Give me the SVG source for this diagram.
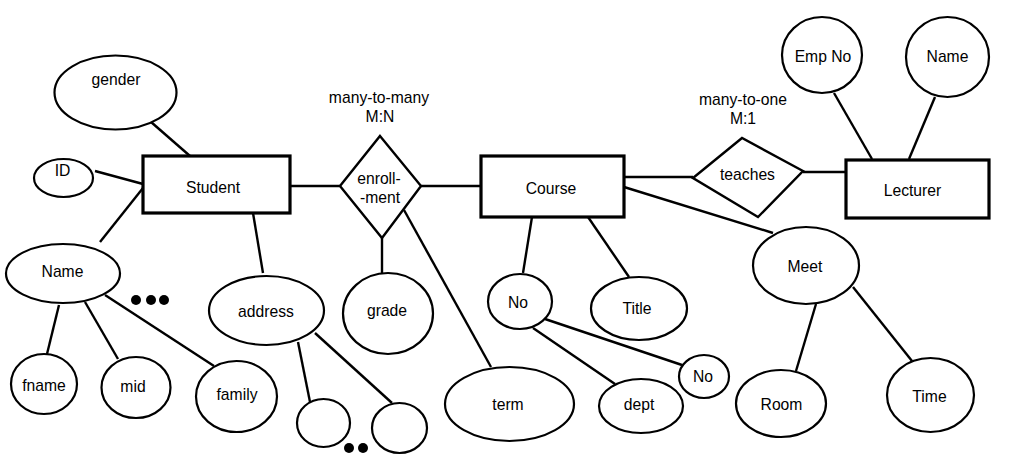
<svg xmlns="http://www.w3.org/2000/svg" width="1012" height="464" viewBox="0 0 1012 464">
<style>
.bg{fill:#fff}
.attr{fill:#fff;stroke:#000;stroke-width:2.2}
.ent{fill:#fff;stroke:#000;stroke-width:3.2}
.rel{fill:#fff;stroke:#000;stroke-width:2.4;stroke-linejoin:miter}
.ln{stroke:#000;stroke-width:2.4;fill:none}
.dot{fill:#000}
text{font-family:"Liberation Sans",Arial,Helvetica,sans-serif;font-size:15.7px;fill:#000;text-anchor:middle}
</style>
<rect class="bg" x="0" y="0" width="1012" height="464"/>
<g id="connectors">
<line class="ln" x1="143" y1="115" x2="190" y2="156"/>
<line class="ln" x1="95" y1="171" x2="143" y2="184"/>
<line class="ln" x1="100" y1="242" x2="143" y2="188"/>
<line class="ln" x1="290" y1="186" x2="340" y2="186"/>
<line class="ln" x1="421" y1="186" x2="481" y2="186"/>
<line class="ln" x1="253" y1="213" x2="263" y2="273"/>
<line class="ln" x1="382" y1="238" x2="382" y2="273"/>
<line class="ln" x1="404" y1="210" x2="491" y2="367"/>
<line class="ln" x1="59" y1="305" x2="47" y2="354"/>
<line class="ln" x1="85" y1="302" x2="118" y2="359"/>
<line class="ln" x1="105" y1="295" x2="214" y2="366"/>
<line class="ln" x1="298" y1="342" x2="310" y2="402"/>
<line class="ln" x1="315" y1="333" x2="392" y2="403"/>
<line class="ln" x1="624" y1="177" x2="693" y2="177"/>
<line class="ln" x1="803" y1="172" x2="846" y2="172"/>
<line class="ln" x1="624" y1="187" x2="773" y2="233"/>
<line class="ln" x1="532" y1="217" x2="523" y2="273"/>
<line class="ln" x1="588" y1="217" x2="629" y2="277"/>
<line class="ln" x1="545" y1="319" x2="682" y2="365"/>
<line class="ln" x1="533" y1="328" x2="615" y2="384"/>
<line class="ln" x1="816" y1="304" x2="796" y2="371"/>
<line class="ln" x1="853" y1="287" x2="912" y2="361"/>
<line class="ln" x1="834" y1="93" x2="872" y2="159"/>
<line class="ln" x1="935" y1="97" x2="909" y2="159"/>
</g>
<g id="student"><rect class="ent" x="143" y="156" width="147" height="57"/><text x="213" y="193">Student</text></g>
<g id="gender"><ellipse class="attr" cx="115.5" cy="92.5" rx="61" ry="37"/><text x="116" y="85">gender</text></g>
<g id="id"><ellipse class="attr" cx="63.5" cy="178" rx="29.5" ry="19"/><text x="62.5" y="176">ID</text></g>
<g id="name"><ellipse class="attr" cx="63" cy="273.5" rx="57" ry="29.5"/><text x="62.5" y="277">Name</text></g>
<g id="fname"><ellipse class="attr" cx="44" cy="384" rx="33" ry="30"/><text x="44" y="391">fname</text></g>
<g id="mid"><ellipse class="attr" cx="136" cy="387.5" rx="34.5" ry="30.5"/><text x="133" y="392">mid</text></g>
<g id="family"><ellipse class="attr" cx="236.5" cy="396.5" rx="40.5" ry="35.5"/><text x="237" y="400">family</text></g>
<g id="name-more"><circle class="dot" cx="136" cy="300" r="5"/><circle class="dot" cx="151" cy="300" r="5"/><circle class="dot" cx="164" cy="300" r="5"/></g>
<g id="address"><ellipse class="attr" cx="266.5" cy="310.5" rx="57.5" ry="34.5"/><text x="266" y="317">address</text></g>
<g id="addr1"><ellipse class="attr" cx="323.5" cy="423" rx="26.5" ry="24"/></g>
<g id="addr2"><ellipse class="attr" cx="399.5" cy="428" rx="27.5" ry="25"/></g>
<g id="addr-more"><circle class="dot" cx="349" cy="448" r="5"/><circle class="dot" cx="363" cy="448" r="5"/></g>
<g id="enrollment"><polygon class="rel" points="380,136 421,186 382,238 340,186"/><text x="379" y="184">enroll-</text><text x="380" y="203">-ment</text></g>
<g id="mn-label"><text x="379" y="103">many-to-many</text><text x="380" y="122">M:N</text></g>
<g id="grade"><ellipse class="attr" cx="388" cy="313.5" rx="45" ry="40.5"/><text x="387" y="316">grade</text></g>
<g id="term"><ellipse class="attr" cx="509.5" cy="404" rx="64.5" ry="37"/><text x="508" y="410">term</text></g>
<g id="course"><rect class="ent" x="481" y="156" width="143" height="61"/><text x="551" y="194">Course</text></g>
<g id="no"><ellipse class="attr" cx="520" cy="301.5" rx="32" ry="27.5"/><text x="518" y="308">No</text></g>
<g id="title"><ellipse class="attr" cx="639" cy="308.5" rx="48" ry="31.5"/><text x="637" y="314">Title</text></g>
<g id="no2"><ellipse class="attr" cx="704" cy="376.5" rx="25" ry="21.5"/><text x="703" y="382">No</text></g>
<g id="dept"><ellipse class="attr" cx="641" cy="406" rx="42" ry="27"/><text x="639" y="410">dept</text></g>
<g id="teaches"><polygon class="rel" points="693,178 742,138 803,171 758,217"/><text x="747.5" y="180">teaches</text></g>
<g id="m1-label"><text x="743" y="105">many-to-one</text><text x="743" y="124">M:1</text></g>
<g id="lecturer"><rect class="ent" x="846" y="160" width="143" height="58"/><text x="912.5" y="196">Lecturer</text></g>
<g id="empno"><ellipse class="attr" cx="822" cy="55" rx="40" ry="38"/><text x="823" y="62">Emp No</text></g>
<g id="lname"><ellipse class="attr" cx="947.5" cy="57" rx="41.5" ry="40"/><text x="947.5" y="62">Name</text></g>
<g id="meet"><ellipse class="attr" cx="806" cy="265.5" rx="53" ry="38.5"/><text x="805" y="272">Meet</text></g>
<g id="room"><ellipse class="attr" cx="781" cy="403.5" rx="45" ry="33.5"/><text x="781.5" y="410">Room</text></g>
<g id="time"><ellipse class="attr" cx="930.5" cy="395" rx="43.5" ry="37"/><text x="929.5" y="402">Time</text></g>
</svg>
